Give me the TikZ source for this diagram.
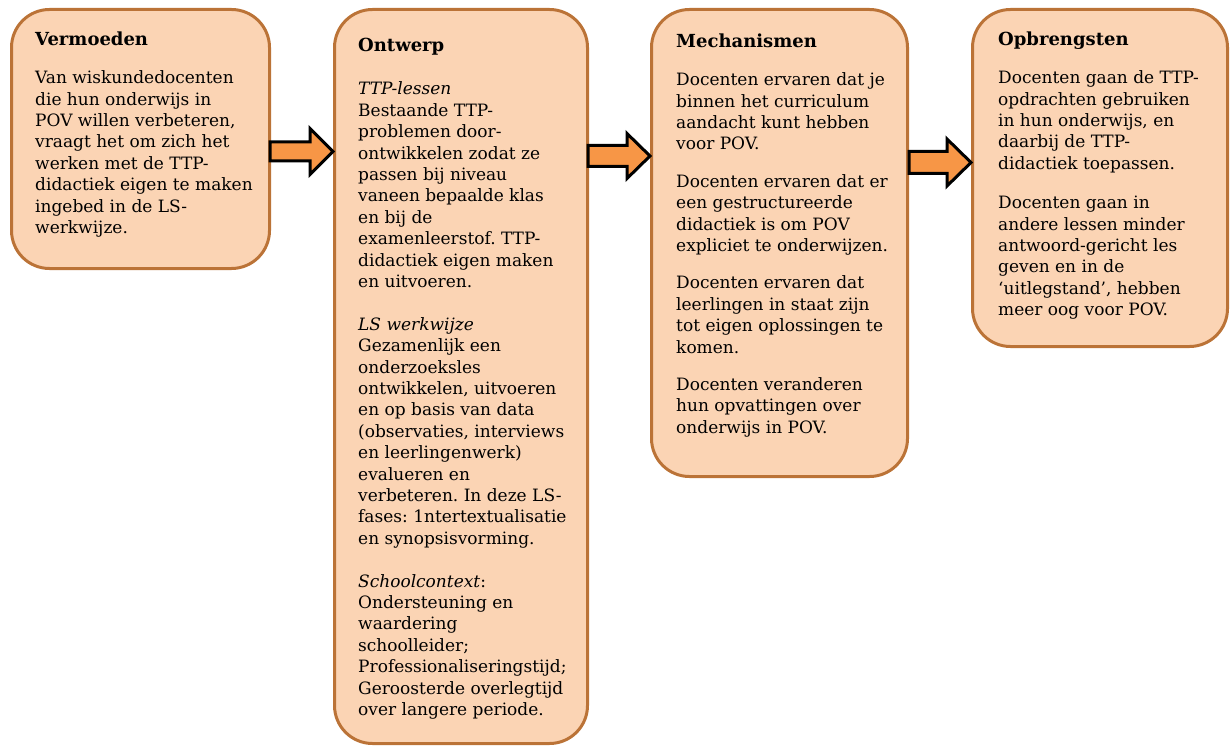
\documentclass[tikz,border=0pt]{standalone}
\usepackage{fontspec}
\setmainfont{DejaVu Serif}
\usepackage{tikz}
\usetikzlibrary{positioning}
\definecolor{peach}{RGB}{251,212,180}
\definecolor{rim}{RGB}{187,115,55}
\definecolor{arroworange}{RGB}{247,150,70}
\tikzset{
	stagebox/.style={draw=rim, line width=3pt, fill=peach, rounded corners=38pt, anchor=north west, inner sep=0pt},
	stagetext/.style={anchor=north west, align=left, inner sep=0pt, font=\fontsize{17}{21.4}\selectfont\frenchspacing},
	flowarrow/.style={draw=black, line width=3pt, fill=arroworange, line join=miter}
}
\newcommand{\stagetitle}[1]{{\fontsize{18}{21.4}\selectfont\bfseries #1}}
% block arrow: x start, x tip, y centre, half shaft, head base x, half head
\newcommand{\flowarrow}[6]{%
	\draw[flowarrow] (#1,#3-#4) -- (#5,#3-#4) -- (#5,#3-#6) -- (#2,#3) -- (#5,#3+#6) -- (#5,#3+#4) -- (#1,#3+#4) -- cycle;}

\begin{document}
\begin{tikzpicture}[x=1pt, y=-1pt]
	\useasboundingbox (0,0) rectangle (1230,746);

	% the four stages
	\node[stagebox, minimum width=258pt, minimum height=259pt] (vermoeden) at (10,8) {};
	\node[stagebox, minimum width=253pt, minimum height=734pt] (ontwerp) at (333,8) {};
	\node[stagebox, minimum width=256pt, minimum height=467pt] (mechanismen) at (650,8) {};
	\node[stagebox, minimum width=255pt, minimum height=337pt] (opbrengsten) at (971,8) {};

	\node[stagetext] (vermoedentxt) at (35,32) {\stagetitle{Vermoeden}\\[16.5pt]
		Van wiskundedocenten\\ die hun onderwijs in\\ POV willen verbeteren,\\ vraagt het om zich het\\
		werken met de TTP-\\ didactiek eigen te maken\\ ingebed in de LS-\\ werkwijze.};

	\node[stagetext] (ontwerptxt) at (358,38) {\stagetitle{Ontwerp}\\[22pt]
		\textit{TTP-lessen}\\ Bestaande TTP-\\ problemen door-\\ ontwikkelen zodat ze\\ passen bij niveau\\
		vaneen bepaalde  klas\\ en bij de\\ examenleerstof. TTP-\\ didactiek eigen maken\\ en uitvoeren.\\[21.4pt]
		\textit{LS werkwijze}\\ Gezamenlijk een\\ onderzoeksles\\ ontwikkelen, uitvoeren\\ en op basis van data\\
		(observaties, interviews\\ en leerlingenwerk)\\ evalueren en\\ verbeteren. In deze LS-\\
		fases: 1ntertextualisatie\\ en synopsisvorming.\\[21.4pt]
		\textit{Schoolcontext}:\\ Ondersteuning en\\ waardering\\ schoolleider;\\ Professionaliseringstijd;\\
		Geroosterde overlegtijd\\ over langere periode.};

	\node[stagetext] (mechanismentxt) at (676,34) {\stagetitle{Mechanismen}\\[16.5pt]
		Docenten ervaren dat je\\ binnen het curriculum\\ aandacht kunt hebben\\ voor POV.\\[16pt]
		Docenten ervaren dat er\\ een gestructureerde\\ didactiek is om POV\\ expliciet te onderwijzen.\\[16pt]
		Docenten ervaren dat\\ leerlingen in staat zijn\\ tot eigen oplossingen te\\ komen.\\[16pt]
		Docenten veranderen\\ hun opvattingen over\\ onderwijs in POV.};

	\node[stagetext] (opbrengstentxt) at (998,32) {\stagetitle{Opbrengsten}\\[16.5pt]
		Docenten gaan de TTP-\\ opdrachten gebruiken\\ in hun onderwijs, en\\ daarbij de TTP-\\ didactiek toepassen.\\[18pt]
		Docenten gaan in\\ andere lessen minder\\ antwoord-gericht les\\ geven en in de\\ ‘uitlegstand’, hebben\\ meer oog voor POV.};

	% arrows between the stages
	\flowarrow{270}{333}{151.5}{9.5}{310}{23}
	\flowarrow{588}{650}{156}{10.5}{627}{22.5}
	\flowarrow{909}{971}{162.5}{11}{947}{23.5}
\end{tikzpicture}
\end{document}
